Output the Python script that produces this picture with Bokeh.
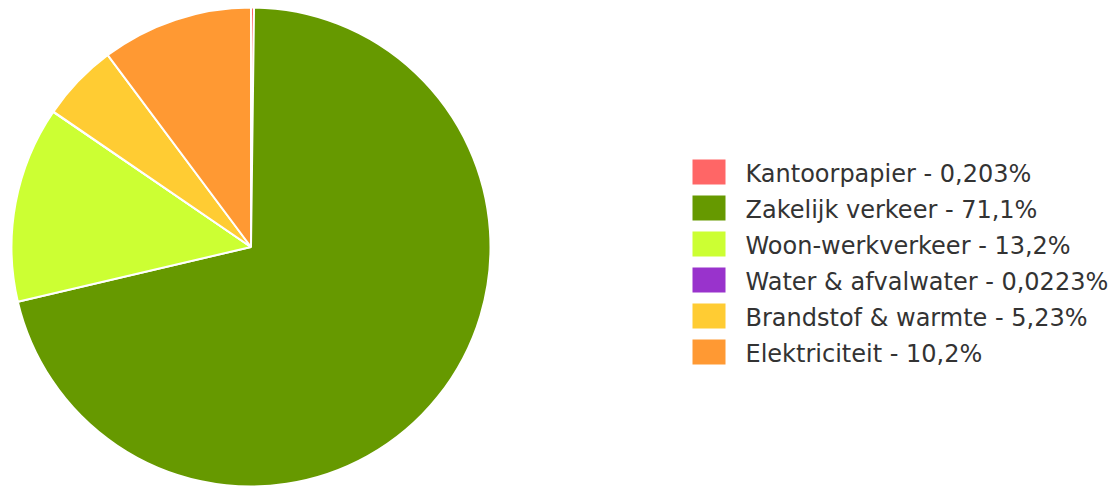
import numpy as np
from bokeh.plotting import figure
from bokeh.models import Range1d, ColumnDataSource
from bokeh.core.properties import value
from bokeh.embed import file_html
from bokeh.resources import INLINE

categories = ["Kantoorpapier", "Zakelijk verkeer", "Woon-werkverkeer",
              "Water & afvalwater", "Brandstof & warmte", "Elektriciteit"]
values = [0.203, 71.1, 13.2, 0.0223, 5.23, 10.2]
labels = ["0,203%", "71,1%", "13,2%", "0,0223%", "5,23%", "10,2%"]
colors = ["#ff6666", "#669900", "#ccff33", "#9933cc", "#ffcc33", "#ff9933"]

W, H = 1117, 486
p = figure(width=W, height=H, output_backend="svg", toolbar_location=None,
           x_range=Range1d(0, W), y_range=Range1d(0, H),
           min_border=0, outline_line_color=None)
p.axis.visible = False
p.grid.visible = False

vals = np.array(values, dtype=float)
frac = vals / vals.sum()
cum = np.concatenate([[0], np.cumsum(frac)])
start = np.pi / 2 - 2 * np.pi * cum[:-1]
end = np.pi / 2 - 2 * np.pi * cum[1:]

cx, cy, r = 250.5, H - 246.5, 239.5
src = ColumnDataSource(dict(start=start, end=end, color=colors))
p.wedge(x=cx, y=cy, radius=r, start_angle="start", end_angle="end",
        direction="clock", fill_color="color", line_color="white",
        line_width=2, source=src)

# legend
row_y = [H - (171.5 + 36 * i) for i in range(len(categories))]
text_y = [y - 2 for y in row_y]
texts = [f"{c} - {l}" for c, l in zip(categories, labels)]
lsrc = ColumnDataSource(dict(y=row_y, ty=text_y, color=colors, text=texts))
p.rect(x=708.5, y="y", width=33, height=25, fill_color="color",
       line_color=None, source=lsrc)
p.text(x=745, y="ty", text="text", text_font=value("DejaVu Sans"),
       text_font_size="24px", text_color="#333333", text_baseline="middle",
       text_align="left", source=lsrc)

open("out.html", "w").write(file_html(p, INLINE))
